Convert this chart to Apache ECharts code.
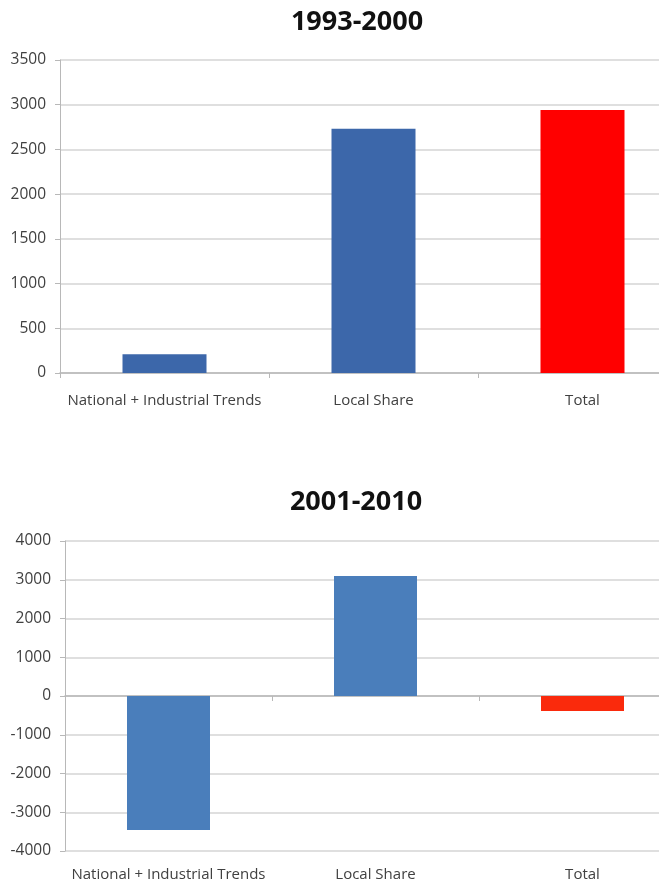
<!DOCTYPE html>
<html>
<head>
<meta charset="utf-8">
<script src="https://cdn.jsdelivr.net/npm/echarts@6/dist/echarts.min.js"></script>
<style>
html,body{margin:0;padding:0;background:#fff;}
#c{width:659px;height:885px;}
</style>
</head>
<body>
<div id="c"></div>
<script>
var categories = ['National + Industrial Trends', 'Local Share', 'Total'];
var values1993 = [210, 2730, 2940];
var values2001 = [-3460, 3100, -390];
var titles = ['1993-2000', '2001-2010'];
var colors1993 = ['#3c67aa', '#3c67aa', '#ff0000'];
var colors2001 = ['#4a7ebb', '#4a7ebb', '#fa2a0c'];

var chart = echarts.init(document.getElementById('c'), null, {renderer: 'canvas'});
var xLabelFont = {fontFamily: 'Open Sans', fontSize: 15, color: '#404040'};
var yLabelFont = {fontFamily: 'Open Sans', fontSize: 15.5, color: '#404040'};
var gridColor = '#d4d4d4';
var axisColor = '#b8b8b8';

function yAxis(gi, min, max, interval, margin) {
  return {
    type: 'value', gridIndex: gi, min: min, max: max, interval: interval,
    axisLine: {show: true, lineStyle: {color: axisColor, width: 1}},
    axisTick: {show: true, length: 5, lineStyle: {color: axisColor}},
    splitLine: {show: true, lineStyle: {color: gridColor, width: 1.5}},
    axisLabel: Object.assign({margin: margin, formatter: function (v) { return String(v); }}, yLabelFont)
  };
}

var option = {
  animation: false,
  backgroundColor: '#fff',
  title: [
    {text: titles[0], left: 352, top: 4, textAlign: 'center',
     textStyle: {fontFamily: 'Open Sans', fontWeight: 'bold', fontSize: 27, color: '#111'}},
    {text: titles[1], left: 351, top: 484, textAlign: 'center',
     textStyle: {fontFamily: 'Open Sans', fontWeight: 'bold', fontSize: 27, color: '#111'}}
  ],
  grid: [
    {left: 60, top: 60, width: 627, height: 313, outerBoundsMode: 'none', containLabel: false},
    {left: 65, top: 541, width: 621, height: 310, outerBoundsMode: 'none', containLabel: false}
  ],
  xAxis: [
    {type: 'category', gridIndex: 0, data: categories,
     axisLine: {show: true, lineStyle: {color: axisColor, width: 1.5}},
     axisTick: {show: true, length: 5, lineStyle: {color: axisColor}},
     axisLabel: Object.assign({margin: 20, interval: 0, hideOverlap: false}, xLabelFont)},
    {type: 'category', gridIndex: 1, data: categories,
     axisLine: {show: false, onZero: false},
     axisTick: {show: false},
     axisLabel: Object.assign({margin: 16, interval: 0, hideOverlap: false}, xLabelFont)},
    {type: 'category', gridIndex: 1, data: categories, position: 'bottom',
     axisLine: {show: true, onZero: true, lineStyle: {color: axisColor, width: 1.5}},
     axisTick: {show: true, length: 5, lineStyle: {color: axisColor}},
     axisLabel: {show: false}}
  ],
  yAxis: [
    yAxis(0, 0, 3500, 500, 14),
    yAxis(1, -4000, 4000, 1000, 14)
  ],
  series: [
    {type: 'bar', xAxisIndex: 0, yAxisIndex: 0, barWidth: 84,
     data: values1993.map(function (v, i) { return {value: v, itemStyle: {color: colors1993[i]}}; })},
    {type: 'bar', xAxisIndex: 1, yAxisIndex: 1, barWidth: 83,
     data: values2001.map(function (v, i) { return {value: v, itemStyle: {color: colors2001[i]}}; })}
  ]
};
chart.setOption(option);
</script>
</body>
</html>
